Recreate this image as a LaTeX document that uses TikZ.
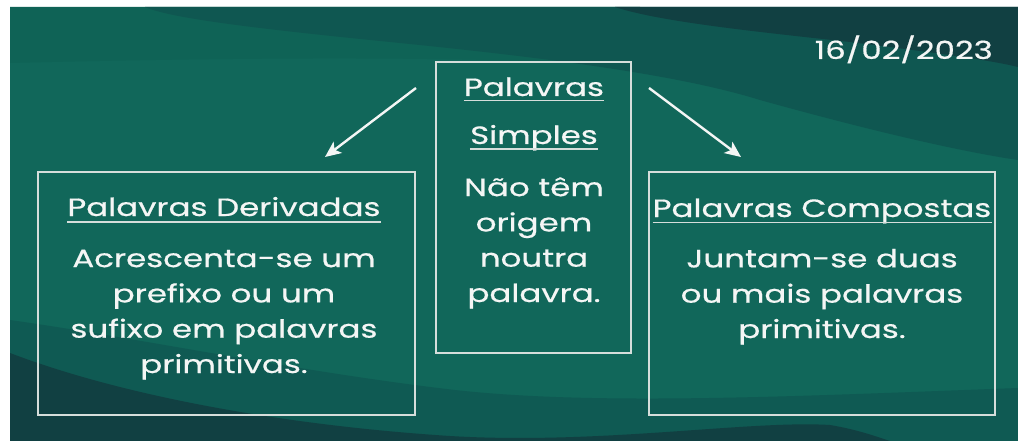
\documentclass[tikz,border=0pt]{standalone}
\usepackage{fontspec}
\setmainfont{Poppins}[FakeStretch=1.3, FakeBold=0.6]
\usetikzlibrary{arrows.meta,calc}
\definecolor{bgbase}{HTML}{11675A}
\definecolor{bgtop}{HTML}{0F6356}
\definecolor{bgmid}{HTML}{0F5751}
\definecolor{bgdark}{HTML}{114042}
\definecolor{bgbot}{HTML}{0F5A53}
\definecolor{chalk}{HTML}{F4F6F5}
\definecolor{frame}{HTML}{D6DEDB}
\tikzset{
  box/.style={draw=frame, line width=1.4pt, inner sep=0pt},
  txt/.style={text=chalk, inner sep=0pt, align=center, font=\fontsize{25}{35.3}\selectfont},
  uline/.style={draw=frame, line width=1.5pt},
  arr/.style={draw=chalk, line width=2.4pt, -{Stealth[length=16pt,width=14pt,inset=4pt]}}
}
\begin{document}
\begin{tikzpicture}[x=1pt,y=-1pt]
\useasboundingbox (0,0) rectangle (1018,441);
\fill[white] (0,0) rectangle (1018,441);
\begin{scope}
\clip (10,7) rectangle (1018,441);
\fill[bgbase] (10,7) rectangle (1018,441);
\fill[bgtop] (10,7) -- (10,63) .. controls (250,57) and (480,56) .. (640,66) -- (640,7) -- cycle;
\fill[bgmid] (145,7) .. controls (170,18) and (250,28) .. (390,42) .. controls (550,58) and (680,75) .. (760,100) .. controls (850,125) and (950,150) .. (1018,160) -- (1018,7) -- cycle;
\fill[bgdark] (615,7) .. controls (660,22) and (760,32) .. (850,42) .. controls (930,52) and (990,60) .. (1018,67) -- (1018,7) -- cycle;
\fill[bgbot] (10,320) .. controls (150,340) and (300,372) .. (455,390) .. controls (600,406) and (800,396) .. (1018,388) -- (1018,441) -- (10,441) -- cycle;
\fill[bgdark] (10,353) .. controls (120,395) and (280,425) .. (450,436) .. controls (600,445) and (750,420) .. (830,425) .. controls (860,430) and (880,438) .. (890,441) -- (10,441) -- cycle;
\end{scope}

% boxes
\node[box, minimum width=377pt, minimum height=243pt] (lbox) at (226.5,293.5) {};
\node[box, minimum width=195pt, minimum height=291pt] (cbox) at (533.5,207.5) {};
\node[box, minimum width=346pt, minimum height=243pt] (rbox) at (822,293.5) {};

% center texts
\node[txt, anchor=base] (ct1) at (534,96) {Palavras};
\draw[uline] ($(ct1.base west)+(0,4.5)$) -- ($(ct1.base east)+(0,4.5)$);
\node[txt, anchor=base] (ct2) at (534,144) {Simples};
\draw[uline] ($(ct2.base west)+(0,5)$) -- ($(ct2.base east)+(0,5)$);
\node[txt, anchor=base] (cbody) at (534,302) {Não têm\\origem\\noutra\\palavra.};

% left texts
\node[txt, anchor=base] (lt) at (224,216) {Palavras Derivadas};
\draw[uline] ($(lt.base west)+(0,6)$) -- ($(lt.base east)+(0,6)$);
\node[txt, anchor=base] (lbody) at (224,373) {Acrescenta-se um\\prefixo ou um\\sufixo em palavras\\primitivas.};

% right texts
\node[txt, anchor=base] (rt) at (822,217) {Palavras Compostas};
\draw[uline] ($(rt.base west)+(0,5.5)$) -- ($(rt.base east)+(0,5.5)$);
\node[txt, anchor=base] (rbody) at (822,338) {Juntam-se duas\\ou mais palavras\\primitivas.};

% date
\node[txt, anchor=base east] (date) at (993,59) {16/02/2023};

% arrows
\coordinate (a1s) at (416,88);
\coordinate (a1e) at (325,157);
\coordinate (a2s) at (649,88);
\coordinate (a2e) at (741,157);
\draw[arr] (a1s) -- (a1e);
\draw[arr] (a2s) -- (a2e);
\end{tikzpicture}
\end{document}
